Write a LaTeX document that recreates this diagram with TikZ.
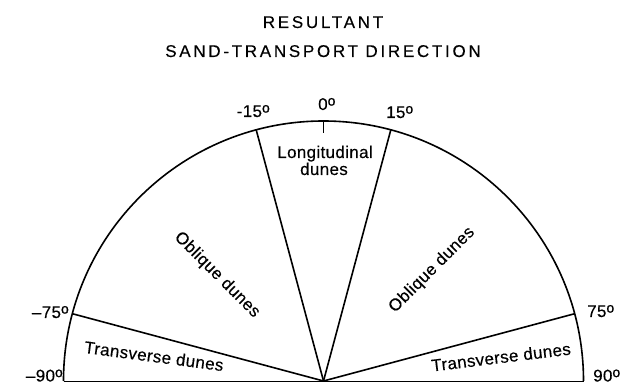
\documentclass[tikz,border=0pt]{standalone}
\usepackage{fontspec}
\setmainfont{Liberation Sans}
\newfontfamily\lblfont[LetterSpace=2,FakeBold=0.25]{Liberation Sans}
\newfontfamily\titlefont[LetterSpace=16,FakeBold=0.25]{Liberation Sans}
\newfontfamily\dgfont[FakeBold=1.2]{Liberation Sans}
\newcommand{\dg}{\raisebox{4.4pt}{\dgfont\fontsize{14}{12}\selectfont o}}
\begin{document}
\begin{tikzpicture}[x=1pt,y=1pt,
  lbl/.style={font=\lblfont\fontsize{17}{19}\selectfont, inner sep=0pt},
  ttl/.style={font=\titlefont\fontsize{17}{19}\selectfont, inner sep=0pt, anchor=base},
  ray/.style={line width=1.6pt, black},
  rim/.style={line width=1.6pt, black}]
\useasboundingbox (0,0) rectangle (628,385);
\coordinate (c) at (323.5,4);
\coordinate (l) at ([shift={(180:260)}]c);
\coordinate (r) at ([shift={(0:260)}]c);
\coordinate (m75) at ([shift={(165:260)}]c);
\coordinate (m15) at ([shift={(105:260)}]c);
\coordinate (p15) at ([shift={(75:260)}]c);
\coordinate (p75) at ([shift={(15:260)}]c);
\coordinate (t) at ([shift={(90:260)}]c);
\coordinate (t2) at ([shift={(0,-12)}]t);
% rim and base
\draw[rim] (l) arc[start angle=180,end angle=0,radius=260];
\draw[line width=1pt] (l) -- (r);
% rays
\draw[ray] (c) -- (m75);
\draw[ray] (c) -- (m15);
\draw[ray] (c) -- (p15);
\draw[ray] (c) -- (p75);
\draw[ray] (t) -- (t2);
% title
\node[ttl] (ttl1) at (323,357) {RESULTANT};
\node[ttl] (ttl2) at (323,328) {SAND-TRANSPORT DIRECTION};
% angle labels
\node[lbl, anchor=base east] (am15) at (270,268) {-15\dg};
\node[lbl, anchor=base west] (a0) at (318,275) {0\dg};
\node[lbl, anchor=base west] (ap15) at (386,267) {15\dg};
\node[lbl, anchor=base east] (am75) at (69,67) {–75\dg};
\node[lbl, anchor=base east] (am90) at (63,3.5) {–90\dg};
\node[lbl, anchor=base west] (ap75) at (587,68) {75\dg};
\node[lbl, anchor=base west] (ap90) at (593,3.5) {90\dg};
% region labels
\node[lbl, anchor=base] (long1) at (325,227) {Longitudinal};
\node[lbl, anchor=base] (long2) at (324,210) {dunes};
\node[lbl, rotate=-45] (obl) at (217,110) {Oblique dunes};
\node[lbl, rotate=45] (obr) at (432,115) {Oblique dunes};
\node[lbl, rotate=-7.5] (trl) at (154,29) {Transverse dunes};
\node[lbl, rotate=7] (trr) at (501,28) {Transverse dunes};
\end{tikzpicture}
\end{document}
